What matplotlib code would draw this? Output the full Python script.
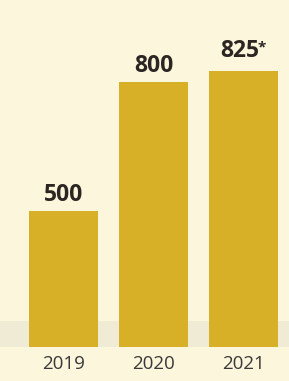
import matplotlib.pyplot as plt

years = ["2019", "2020", "2021"]
values = [500, 800, 825]
labels = ["500", "800", "825"]
marks = ["", "", "*"]

BG = "#fbf6dc"
BAR = "#d7b028"
INK = "#2b2622"

def main():
    fig = plt.figure(figsize=(2.89, 3.81), dpi=100, facecolor=BG)
    ax = fig.add_axes([0, 34 / 381, 1, 347 / 381])
    ax.set_facecolor(BG)

    x = list(range(len(years)))
    bars = ax.bar(x, values, width=0.77, color=BAR, zorder=2)

    # faint grey halftone band near the base
    ax.axhspan(184, 245, color="#cfcbbd", alpha=0.25, lw=0, zorder=1)

    for b, lab, m in zip(bars, labels, marks):
        cx = b.get_x() + b.get_width() / 2
        dx = -3 if m else 0
        off = 6 if m else 3
        t = ax.annotate(lab, (cx, b.get_height()),
                        xytext=(dx, off), textcoords="offset points",
                        ha="center", va="bottom", fontsize=16.5,
                        fontweight="bold", family="Open Sans", color=INK)
        if m:
            # small raised asterisk right after the number
            ax.annotate(m, (1, 1), xycoords=t, xytext=(-1, -1),
                        textcoords="offset points", ha="left", va="top",
                        fontsize=11, fontweight="bold", family="Open Sans",
                        color=INK)

    ax.set_xlim(-0.706, 2.506)
    ax.set_ylim(184, 991)
    ax.set_xticks(x)
    ax.set_xticklabels(years, fontsize=13.5, family="Open Sans", color="#3a3838")
    ax.tick_params(axis="x", length=0, pad=6)
    ax.set_yticks([])
    for s in ax.spines.values():
        s.set_visible(False)

    fig.savefig("out.png", dpi=100, facecolor=BG)
    plt.close(fig)

if __name__ == "__main__":
    main()
